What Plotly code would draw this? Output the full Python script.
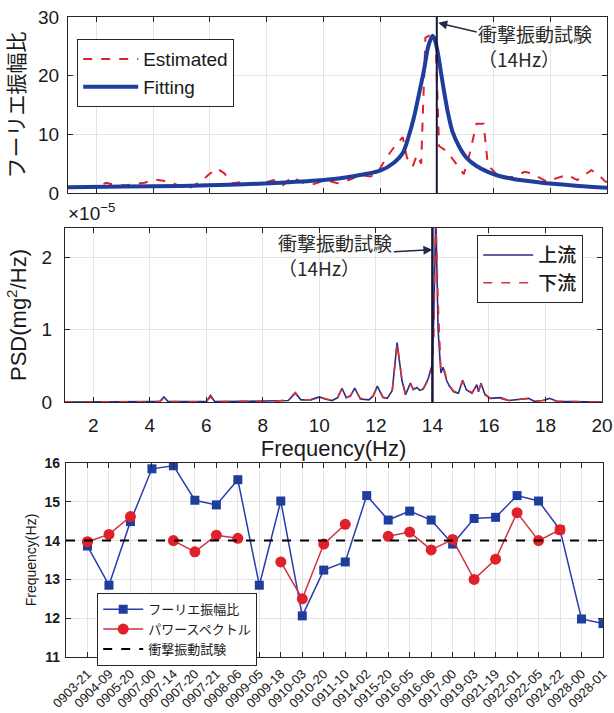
import plotly.graph_objects as go

W, H = 614, 713
FONT = "Liberation Sans, Arial, Noto Sans CJK JP, sans-serif"
JP_FONT = "Noto Sans CJK JP, sans-serif"

IMPACT_HZ = 14.0  # impact vibration test result (14 Hz)

# ---------------- panel 1: Fourier amplitude ratio ----------------
est_freq = [1.0, 1.5, 2.0, 2.35, 2.7, 3.1, 3.7, 4.05, 4.6, 5.2, 5.75, 5.95, 6.25,
            6.5, 6.8, 7.15, 7.4, 7.9, 8.25, 8.55, 8.9, 9.2, 9.55, 10.1, 10.5,
            10.95, 11.3, 11.65, 11.9, 12.25, 12.6, 12.8, 12.95, 13.15, 13.3,
            13.45, 13.6, 13.8, 13.95, 14.08, 14.3, 14.5, 14.75, 14.95, 15.15,
            15.4, 15.65, 15.8, 15.95, 16.25, 16.7, 17.1, 17.3, 17.55, 17.9,
            18.2, 18.6, 18.95, 19.2, 19.45, 19.7, 19.95, 20.0]
est_ratio = [1.0, 1.0, 1.1, 1.75, 1.3, 1.35, 1.75, 2.3, 1.9, 0.6, 2.2, 3.1, 4.2,
             3.4, 1.65, 1.9, 1.5, 1.75, 2.2, 1.2, 2.8, 1.9, 1.35, 2.2, 1.65,
             2.3, 3.1, 2.8, 3.4, 6.2, 8.5, 9.5, 6.0, 4.5, 6.5,
             5.0, 26.5, 27.0, 27.2, 8.0, 7.3, 6.2, 4.5, 3.2, 6.5,
             11.8, 11.8, 4.8, 4.0, 2.5, 2.8, 3.6, 3.4, 2.8, 1.9,
             2.5, 3.1, 2.2, 3.1, 3.9, 3.1, 1.9, 1.9]

fit_freq = [1.0, 3.0, 5.0, 7.0, 8.5, 10.0, 11.0, 12.0, 12.5, 12.8, 13.0, 13.2,
            13.4, 13.55, 13.7, 13.85, 13.95, 14.05, 14.15, 14.25, 14.4, 14.55,
            14.8, 15.05, 15.4, 15.8, 16.2, 16.7, 17.3, 18.0, 19.0, 20.0]
fit_ratio = [1.0, 1.1, 1.2, 1.45, 1.75, 2.2, 2.8, 3.8, 5.2, 6.8, 9.5, 13.0,
             17.5, 21.0, 25.0, 26.8, 25.8, 23.5, 20.5, 17.5, 13.5, 10.5,
             7.8, 6.0, 4.6, 3.6, 2.9, 2.4, 2.0, 1.6, 1.2, 0.9]

# ---------------- panel 2: power spectral density (x1e-5 mg^2/Hz) ----------------
PSD_SCALE = 1e-5
psd_freq = [1.0, 2.0, 3.0, 4.0, 4.35, 4.5, 4.65, 5.5, 6.0, 6.15, 6.3, 7.5, 8.5,
            8.9, 9.15, 9.35, 9.7, 10.0, 10.2, 10.45, 10.65, 10.8, 10.95, 11.1,
            11.25, 11.45, 11.75, 11.9, 12.05, 12.25, 12.4, 12.58, 12.75, 12.92,
            13.05, 13.22, 13.32, 13.45, 13.55, 13.68, 13.85, 13.98, 14.05, 14.12,
            14.2, 14.3, 14.38, 14.5, 14.6, 14.75, 14.92, 15.07, 15.2, 15.4,
            15.57, 15.63, 15.72, 15.86, 16.05, 16.4, 16.7, 17.0, 17.4, 17.6,
            17.9, 18.15, 18.4, 19.0, 20.0]
psd_upstream = [0.0, 0.005, 0.0, 0.005, 0.005, 0.07, 0.005, 0.005, 0.005, 0.09,
                0.005, 0.01, 0.01, 0.02, 0.12, 0.03, 0.03, 0.07, 0.04, 0.02,
                0.06, 0.19, 0.06, 0.08, 0.19, 0.04, 0.03, 0.08, 0.22, 0.06,
                0.05, 0.16, 0.82, 0.30, 0.10, 0.26, 0.17, 0.20, 0.16, 0.18,
                0.32, 0.50, 1.20, 2.60, 1.00, 0.40, 0.48, 0.30, 0.22, 0.14,
                0.12, 0.30, 0.17, 0.12, 0.24, 0.14, 0.26, 0.10, 0.05, 0.06,
                0.02, 0.03, 0.05, 0.01, 0.02, 0.05, 0.01, 0.005, 0.0]
psd_downstream = [0.0, 0.004, 0.0, 0.004, 0.005, 0.05, 0.005, 0.004, 0.005, 0.07,
                  0.005, 0.01, 0.012, 0.03, 0.13, 0.03, 0.035, 0.07, 0.045, 0.02,
                  0.07, 0.18, 0.06, 0.09, 0.18, 0.05, 0.03, 0.09, 0.20, 0.07,
                  0.05, 0.17, 0.80, 0.32, 0.11, 0.25, 0.18, 0.21, 0.17, 0.19,
                  0.30, 0.45, 0.90, 2.60, 1.40, 0.45, 0.50, 0.32, 0.23, 0.15,
                  0.13, 0.29, 0.18, 0.13, 0.23, 0.15, 0.25, 0.11, 0.05, 0.05,
                  0.02, 0.03, 0.05, 0.01, 0.02, 0.04, 0.01, 0.005, 0.0]

# ---------------- panel 3: identified natural frequency per record ----------------
records = ["0903-21", "0904-09", "0905-20", "0907-00", "0907-14", "0907-20",
           "0907-21", "0908-06", "0909-05", "0909-18", "0910-03", "0910-20",
           "0911-10", "0914-02", "0915-20", "0916-05", "0916-06", "0917-00",
           "0919-03", "0921-19", "0922-01", "0922-05", "0924-22", "0928-00",
           "0928-01"]
fourier_hz = [13.86, 12.85, 14.49, 15.85, 15.93, 15.04, 14.92, 15.57, 12.85,
              15.02, 12.06, 13.24, 13.45, 15.16, 14.53, 14.76, 14.53, 13.91,
              14.57, 14.60, 15.16, 15.02, 14.28, 11.98, 11.86]
power_hz = [13.97, 14.16, 14.62, None, 14.00, 13.71, 14.14, 14.06, None,
            13.45, 12.50, 13.91, 14.42, None, 14.11, 14.22, 13.76, 14.03,
            13.00, 13.52, 14.72, 14.00, 14.28, None, None]

BLUE = "#1f3d9c"
RED = "#e0202a"
NAVY = "#2b2b85"
AXIS = "#262626"
GRID = "#e4e4e4"


def px_x(p):
    return p / W


def px_y(p):
    return 1 - p / H


def frame(**kw):
    base = dict(showline=True, linecolor=AXIS, linewidth=1.3, mirror="allticks",
                ticks="inside", ticklen=5, tickcolor=AXIS, showgrid=True,
                gridcolor=GRID, gridwidth=1, zeroline=False, automargin=False,
                tickfont=dict(family=FONT, size=19, color="#1a1a1a"))
    base.update(kw)
    return base


fig = go.Figure()

fig.add_trace(go.Scatter(x=est_freq, y=est_ratio, name="Estimated", mode="lines",
                         line=dict(color=RED, width=2, dash="dash"),
                         xaxis="x", yaxis="y", legend="legend"))
fig.add_trace(go.Scatter(x=fit_freq, y=fit_ratio, name="Fitting", mode="lines",
                         line=dict(color=BLUE, width=4, shape="spline", smoothing=0.8),
                         xaxis="x", yaxis="y", legend="legend"))

fig.add_trace(go.Scatter(x=psd_freq, y=[v * PSD_SCALE for v in psd_upstream],
                         name="上流", mode="lines",
                         line=dict(color=NAVY, width=1.6),
                         xaxis="x2", yaxis="y2", legend="legend2"))
fig.add_trace(go.Scatter(x=psd_freq, y=[v * PSD_SCALE for v in psd_downstream],
                         name="下流", mode="lines",
                         line=dict(color="#d8303c", width=1.6, dash="dash"),
                         xaxis="x2", yaxis="y2", legend="legend2"))

fig.add_trace(go.Scatter(x=records, y=fourier_hz, name="フーリエ振幅比",
                         mode="lines+markers",
                         line=dict(color="#2a3caa", width=1.5),
                         marker=dict(symbol="square", size=9, color=BLUE),
                         xaxis="x3", yaxis="y3", legend="legend3"))
fig.add_trace(go.Scatter(x=records, y=power_hz, name="パワースペクトル",
                         mode="lines+markers", connectgaps=False,
                         line=dict(color="#d03040", width=1.5),
                         marker=dict(symbol="circle", size=11, color=RED),
                         xaxis="x3", yaxis="y3", legend="legend3"))

legend_common = dict(bgcolor="white", bordercolor=AXIS, borderwidth=1.2,
                     xanchor="left", yanchor="top", tracegroupgap=0)

fig.update_layout(
    width=W, height=H, margin=dict(l=0, r=0, t=0, b=0),
    paper_bgcolor="white", plot_bgcolor="white",
    font=dict(family=FONT, color="#1a1a1a"),
    xaxis=frame(domain=[px_x(68), px_x(607)], range=[1, 20],
                tickvals=list(range(2, 21, 2)), showticklabels=False, anchor="y"),
    yaxis=frame(domain=[px_y(193), px_y(17)], range=[0, 30],
                tickvals=[0, 10, 20, 30], anchor="x", ticklabelstandoff=4,
                title=dict(text="フーリエ振幅比", standoff=16,
                           font=dict(family=JP_FONT, size=21, color="#1a1a1a"))),
    xaxis2=frame(domain=[px_x(65), px_x(602)], range=[1, 20],
                 tickvals=list(range(2, 21, 2)), anchor="y2", ticklabelstandoff=6,
                 title=dict(text="Frequency(Hz)", standoff=0,
                            font=dict(family=FONT, size=22))),
    yaxis2=frame(domain=[px_y(402), px_y(228)], range=[0, 2.4 * PSD_SCALE],
                 tickvals=[0, PSD_SCALE, 2 * PSD_SCALE], ticktext=["0", "1", "2"],
                 anchor="x2", ticklabelstandoff=8,
                 title=dict(text="PSD(mg<sup>2</sup>/Hz)", standoff=8,
                            font=dict(family=FONT, size=22))),
    xaxis3=frame(domain=[px_x(66), px_x(603)], type="category",
                 categoryarray=records, range=[-1, len(records) - 1], tickangle=-45,
                 anchor="y3", ticklabelstandoff=3,
                 tickfont=dict(family=FONT, size=13, color="#1a1a1a")),
    yaxis3=frame(domain=[px_y(657), px_y(463)], range=[11, 16], dtick=1,
                 anchor="x3", ticklabelstandoff=2,
                 tickfont=dict(family=FONT, size=14, color="#1a1a1a", weight="bold"),
                 title=dict(text="Frequency(Hz)", standoff=4,
                            font=dict(family=FONT, size=14))),
    legend=dict(legend_common, x=px_x(77), y=px_y(39), itemwidth=55,
                font=dict(family=FONT, size=19)),
    legend2=dict(legend_common, x=px_x(477), y=px_y(235), itemwidth=50,
                 font=dict(family=JP_FONT, size=19, weight=500)),
    legend3=dict(legend_common, x=px_x(97), y=px_y(593), itemwidth=40,
                 font=dict(family=JP_FONT, size=13)),
)

# impact-test reference lines
fig.add_shape(type="line", xref="x", yref="y domain", x0=IMPACT_HZ, x1=IMPACT_HZ,
              y0=0, y1=1, line=dict(color="#16163a", width=2))
fig.add_shape(type="line", xref="x2", yref="y2 domain", x0=IMPACT_HZ, x1=IMPACT_HZ,
              y0=0, y1=1, line=dict(color="#16163a", width=2.5))
fig.add_shape(type="line", xref="x3 domain", yref="y3", x0=0, x1=1,
              y0=IMPACT_HZ, y1=IMPACT_HZ, line=dict(color="black", width=2, dash="dash"),
              showlegend=True, legend="legend3", name="衝撃振動試験")

label_font = dict(family=JP_FONT, size=19, color="#2a2a2a")
fig.add_annotation(x=IMPACT_HZ + 0.05, y=29.0, xref="x", yref="y",
                   text="衝撃振動試験<br>（14Hz）", align="left", font=label_font,
                   showarrow=True, arrowhead=2, arrowsize=1.2, arrowwidth=1.5,
                   arrowcolor="#1f2a44", ax=97, ay=23)
fig.add_annotation(x=IMPACT_HZ, y=2.1 * PSD_SCALE, xref="x2", yref="y2",
                   text="衝撃振動試験<br>（14Hz）", align="left", font=label_font,
                   showarrow=True, arrowhead=2, arrowsize=1.2, arrowwidth=1.5,
                   arrowcolor="#1f2a44", ax=-97, ay=5)
fig.add_annotation(x=px_x(66), y=px_y(226), xref="paper", yref="paper",
                   xanchor="left", yanchor="bottom", showarrow=False,
                   text="×10<sup>−5</sup>", font=dict(family=FONT, size=19))

fig.write_html("out.html")
